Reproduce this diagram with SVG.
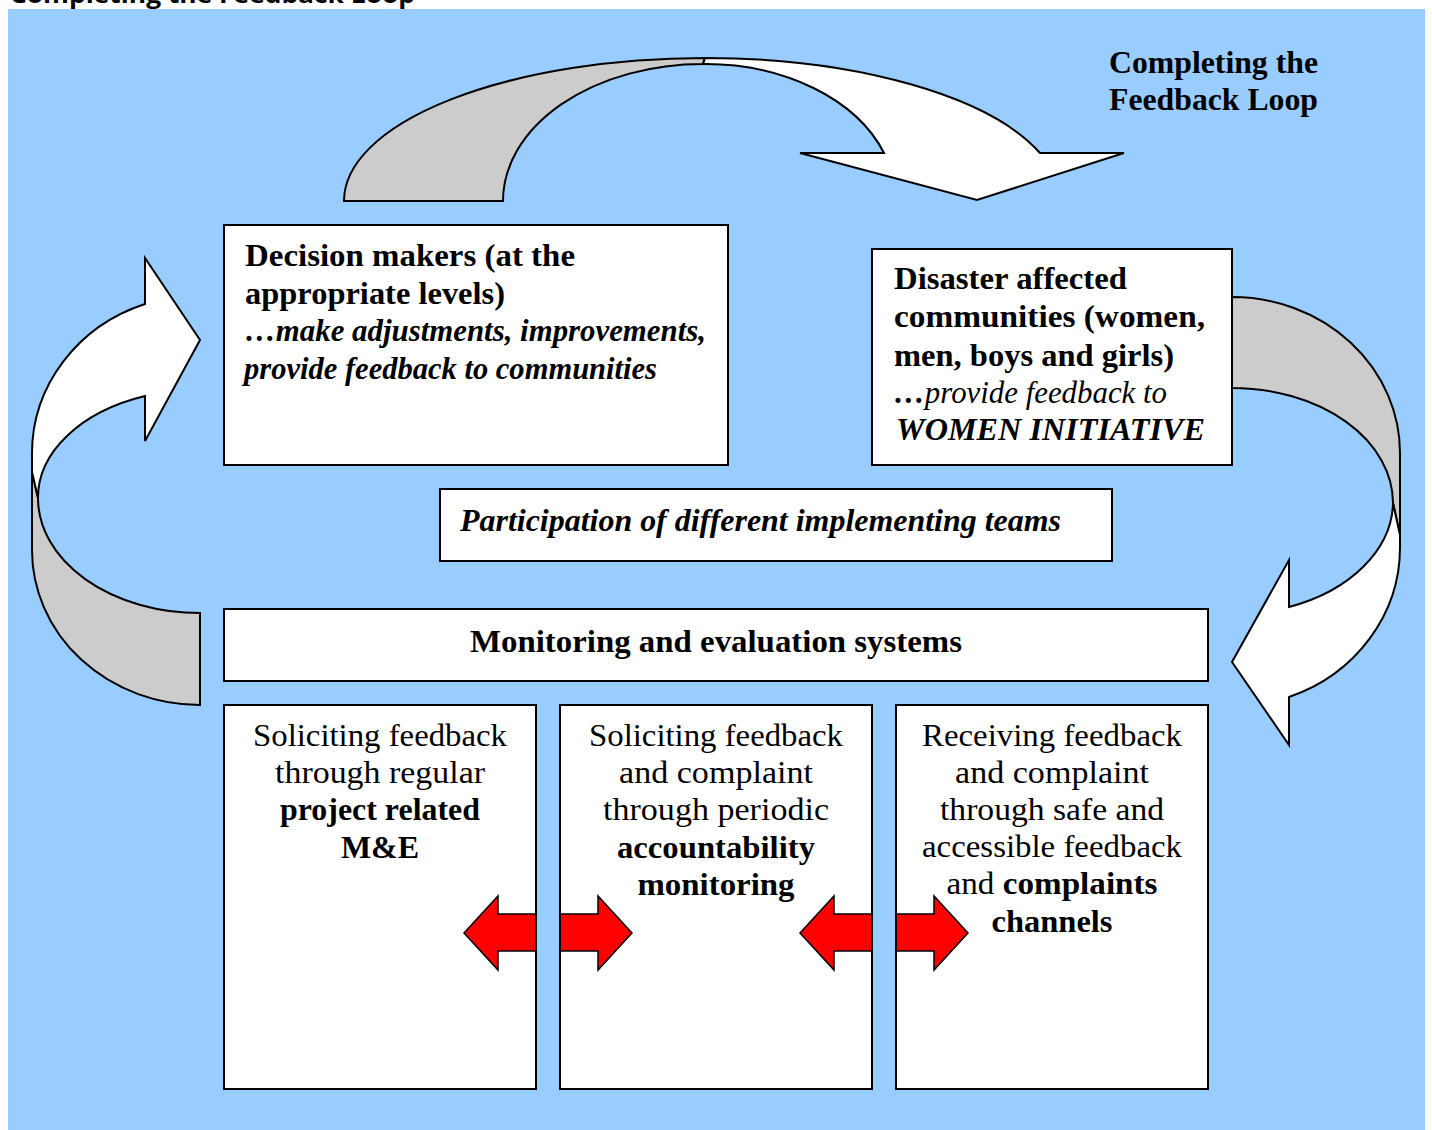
<svg xmlns="http://www.w3.org/2000/svg" width="1432" height="1130" viewBox="0 0 1432 1130">
<style>
.bg{fill:#99CCFF}
.box{fill:#FFFFFF;stroke:#000000;stroke-width:2}
.gray{fill:#CCCCCC;stroke:#000000;stroke-width:2;stroke-linejoin:miter}
.white{fill:#FFFFFF;stroke:#000000;stroke-width:2;stroke-linejoin:miter}
.red{fill:#FF0000;stroke:#000000;stroke-width:1.5;stroke-linejoin:miter}
.t{font-family:"Liberation Serif","Times New Roman",serif;fill:#000000}
.b{font-weight:bold}
.i{font-style:italic}
.s31{font-size:31px}
.s32{font-size:32px}
.s28{font-size:31px}
.mid{text-anchor:middle}
.cap{font-family:"Open Sans","DejaVu Sans",sans-serif;font-weight:bold;font-size:23px;fill:#000000}
</style>
<rect x="0" y="0" width="1432" height="1130" fill="#FFFFFF"/>
<text class="cap" x="10" y="3" textLength="405" lengthAdjust="spacingAndGlyphs">Completing the Feedback Loop</text>
<rect class="bg" x="8" y="9" width="1417" height="1121"/>

<g id="connectors">
  <g id="arrow-top">
    <path class="gray" d="M344,201 A361,143 0 0 1 705,58 L703,64 A200,137 0 0 0 503,201 Z"/>
    <path class="white" d="M705,58 A355,143 0 0 1 1040,153 L1124,153 L977,200 L800,153 L884,153 A190,135 0 0 0 703,64 Z"/>
  </g>
  <g id="arrow-right">
    <path class="gray" d="M1232,297 A168,156 0 0 1 1400,453 L1400,535 L1393,503 A161,115 0 0 0 1232,388 Z"/>
    <path class="white" d="M1393,503 L1400,535 L1400,547 A168,159 0 0 1 1289,697 L1289,745 L1232,662 L1289,560 L1289,607 A161,113 0 0 0 1393,503 Z"/>
  </g>
  <g id="arrow-left">
    <path class="gray" d="M200,705 A168,155 0 0 1 32,550 L32,472 L38,498 A162,115 0 0 0 200,613 Z"/>
    <path class="white" d="M38,498 L32,472 L32,453 A168,158 0 0 1 145,304 L145,258 L200,340 L145,441 L145,396 A162,108 0 0 0 38,498 Z"/>
  </g>
</g>

<g id="title">
  <text class="t b s28" x="1109" y="73" textLength="209" lengthAdjust="spacingAndGlyphs">Completing the</text>
  <text class="t b s28" x="1109" y="110" textLength="209" lengthAdjust="spacingAndGlyphs">Feedback Loop</text>
</g>

<g id="decision-makers">
  <rect class="box" x="224" y="225" width="504" height="240"/>
  <text class="t b s31" x="245" y="266" textLength="330" lengthAdjust="spacingAndGlyphs">Decision makers (at the</text>
  <text class="t b s31" x="245" y="304" textLength="260" lengthAdjust="spacingAndGlyphs">appropriate levels)</text>
  <text class="t b i s31" x="245" y="341" textLength="461" lengthAdjust="spacingAndGlyphs">…make adjustments, improvements,</text>
  <text class="t b i s31" x="244" y="379" textLength="413" lengthAdjust="spacingAndGlyphs">provide feedback to communities</text>
</g>

<g id="communities">
  <rect class="box" x="872" y="249" width="360" height="216"/>
  <text class="t b s31" x="894" y="289" textLength="233" lengthAdjust="spacingAndGlyphs">Disaster affected</text>
  <text class="t b s31" x="894" y="327" textLength="311" lengthAdjust="spacingAndGlyphs">communities (women,</text>
  <text class="t b s31" x="894" y="366" textLength="280" lengthAdjust="spacingAndGlyphs">men, boys and girls)</text>
  <text class="t i s31" x="894" y="403" textLength="273" lengthAdjust="spacingAndGlyphs"><tspan class="b">…</tspan>provide feedback to</text>
  <text class="t b i s31" x="896" y="440" textLength="309" lengthAdjust="spacingAndGlyphs">WOMEN INITIATIVE</text>
</g>

<g id="participation">
  <rect class="box" x="440" y="489" width="672" height="72"/>
  <text class="t b i s28" x="460" y="531" textLength="601" lengthAdjust="spacingAndGlyphs">Participation of different implementing teams</text>
</g>

<g id="monitoring">
  <rect class="box" x="224" y="609" width="984" height="72"/>
  <text class="t b s28" x="470" y="652" textLength="492" lengthAdjust="spacingAndGlyphs">Monitoring and evaluation systems</text>
</g>

<g id="box-me">
  <rect class="box" x="224" y="705" width="312" height="384"/>
  <text class="t s32 mid" x="380" y="746" textLength="254" lengthAdjust="spacingAndGlyphs">Soliciting feedback</text>
  <text class="t s32 mid" x="380" y="783" textLength="210" lengthAdjust="spacingAndGlyphs">through regular</text>
  <text class="t b s32 mid" x="380" y="820" textLength="200" lengthAdjust="spacingAndGlyphs">project related</text>
  <text class="t b s32 mid" x="380" y="858" textLength="78" lengthAdjust="spacingAndGlyphs">M&amp;E</text>
</g>

<g id="box-accountability">
  <rect class="box" x="560" y="705" width="312" height="384"/>
  <text class="t s32 mid" x="716" y="746" textLength="254" lengthAdjust="spacingAndGlyphs">Soliciting feedback</text>
  <text class="t s32 mid" x="716" y="783" textLength="194" lengthAdjust="spacingAndGlyphs">and complaint</text>
  <text class="t s32 mid" x="716" y="820" textLength="226" lengthAdjust="spacingAndGlyphs">through periodic</text>
  <text class="t b s32 mid" x="716" y="858" textLength="198" lengthAdjust="spacingAndGlyphs">accountability</text>
  <text class="t b s32 mid" x="716" y="895" textLength="157" lengthAdjust="spacingAndGlyphs">monitoring</text>
</g>

<g id="box-channels">
  <rect class="box" x="896" y="705" width="312" height="384"/>
  <text class="t s32 mid" x="1052" y="746" textLength="260" lengthAdjust="spacingAndGlyphs">Receiving feedback</text>
  <text class="t s32 mid" x="1052" y="783" textLength="194" lengthAdjust="spacingAndGlyphs">and complaint</text>
  <text class="t s32 mid" x="1052" y="820" textLength="224" lengthAdjust="spacingAndGlyphs">through safe and</text>
  <text class="t s32 mid" x="1052" y="857" textLength="260" lengthAdjust="spacingAndGlyphs">accessible feedback</text>
  <text class="t s32 mid" x="1052" y="894" textLength="211" lengthAdjust="spacingAndGlyphs">and <tspan class="b">complaints</tspan></text>
  <text class="t b s32 mid" x="1052" y="932" textLength="121" lengthAdjust="spacingAndGlyphs">channels</text>
</g>

<g id="red-arrows">
  <path class="red" d="M464,933 L498,896 L498,914 L598,914 L598,896 L632,933 L598,970 L598,951 L498,951 L498,970 Z"/>
  <path class="red" d="M800,933 L834,896 L834,914 L934,914 L934,896 L968,933 L934,970 L934,951 L834,951 L834,970 Z"/>
  <rect class="bg" x="537" y="890" width="22" height="86"/>
  <rect class="bg" x="873" y="890" width="22" height="86"/>
  <path d="M536,888 V978 M560,888 V978 M872,888 V978 M896,888 V978" stroke="#000000" stroke-width="2" fill="none"/>
</g>
</svg>
